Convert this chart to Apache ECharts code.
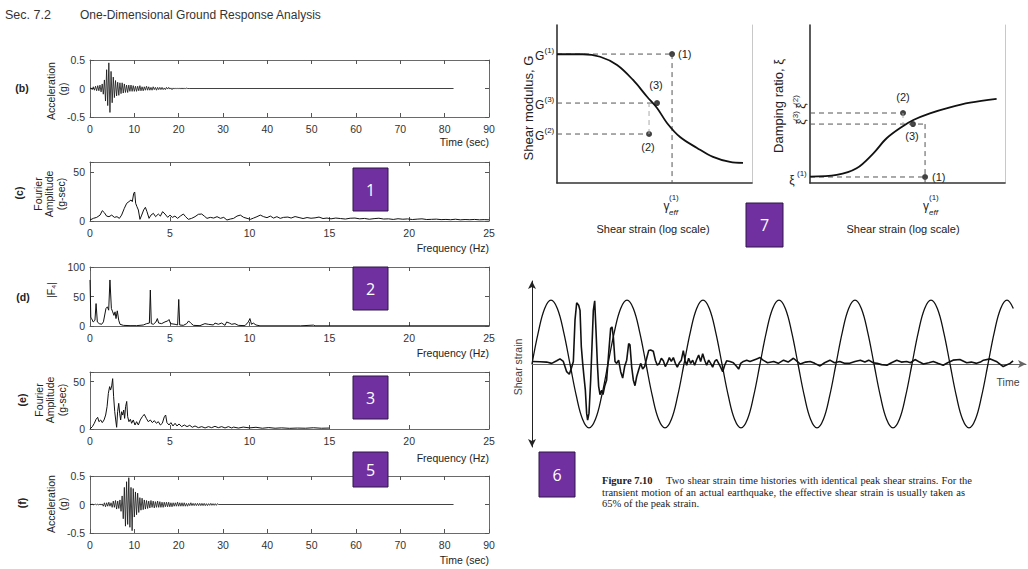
<!DOCTYPE html>
<html><head><meta charset="utf-8">
<script src="https://cdn.jsdelivr.net/npm/echarts@6/dist/echarts.min.js"></script>
<style>html,body{margin:0;padding:0;background:#fff;}#c{width:1028px;height:569px;}</style>
</head><body><div id="c"></div>
<script>
// ---------- DATA ----------
const timeTicks = [0,10,20,30,40,50,60,70,80,90];
const freqTicks = [0,5,10,15,20,25];

// (b) acceleration time history, sampled every 0.25 s
const bDt = 0.25;
const bAcc = [0,0.01,-0.02,0.03,-0.03,0.04,-0.04,0.05,-0.04,0.06,-0.06,0.08,
 -0.1,0.15,-0.22,0.33,-0.3,0.45,-0.42,0.3,-0.25,0.2,-0.16,0.14,
 -0.13,0.11,-0.12,0.1,-0.09,0.1,-0.08,0.08,-0.07,0.06,-0.07,0.06,
 -0.05,0.06,-0.05,0.05,-0.05,0.04,-0.05,0.04,-0.04,0.05,-0.04,0.03,
 -0.04,0.03,-0.03,0.04,-0.03,0.03,-0.03,0.02,-0.03,0.03,-0.02,0.02,
 -0.03,0.02,-0.02,0.02,-0.02,0.02,-0.02,0.01,-0.02,0.02,-0.01,0.02,
 -0.01,0.01,-0.02,0.01,-0.01,0.01,-0.01,0.01,-0.01,0.01,-0.01,0.01,
 -0.01,0.01,-0.01,0.01,0];
const bTail = [[22.5,0],[82,0]];

// (c) Fourier amplitude [Hz, g-sec]
const cSpec = [[0,1],[0.21,2.7],[0.42,3.7],[0.63,6],[0.77,10.5],[0.9,8.5],[1.04,5],[1.19,4.4],[1.36,6],[1.53,3.7],[1.69,4.4],[1.84,2.7],[1.98,6],[2.15,12.9],[2.3,18],[2.44,19.7],[2.57,21.4],[2.65,19.7],[2.74,28.2],[2.8,29.5],[2.86,18],[2.94,14.6],[3.03,11.2],[3.13,1.7],[3.24,6],[3.36,11.2],[3.47,13.9],[3.57,9.5],[3.7,2.7],[3.82,6],[3.97,7.8],[4.11,4.4],[4.28,7.1],[4.41,5],[4.55,9.5],[4.7,7.1],[4.87,3.7],[5.01,6],[5.16,3.7],[5.32,5],[5.49,2.7],[5.66,5],[5.85,7.1],[5.99,4.4],[6.16,1.7],[6.37,2.7],[6.58,4.4],[6.79,6.8],[7.0,7.1],[7.16,5],[7.33,2.7],[7.54,3.7],[7.75,3],[7.96,4.4],[8.17,2.7],[8.38,3.7],[8.58,1],[8.79,2],[9.0,2.7],[9.21,5],[9.42,6],[9.63,3.7],[9.84,2.7],[10.05,1.7],[10.25,3],[10.46,4.4],[10.67,6],[10.88,4.4],[11.09,3.4],[11.3,5],[11.5,3],[11.71,4.4],[11.92,2.7],[12.13,3.7],[12.4,4],[12.6,3],[12.85,4.5],[13.1,3.5],[13.35,2.5],[13.6,3.5],[13.85,2.8],[14.1,3.2],[14.35,4],[14.6,2.5],[14.85,3],[15.1,2.2],[15.4,3],[15.7,2.5],[16.0,2],[16.3,2.8],[16.6,3],[16.9,2.2],[17.2,2.6],[17.5,1.8],[17.8,2.4],[18.1,2.8],[18.4,2],[18.7,2.2],[19.0,1.6],[19.3,2.3],[19.6,1.8],[19.9,2.1],[20.2,1.5],[20.5,1.9],[20.8,2.2],[21.1,1.5],[21.4,1.7],[21.7,1.9],[22.0,1.4],[22.3,1.6],[22.6,1.3],[22.9,1.8],[23.2,1.2],[23.5,1.5],[23.8,1.3],[24.1,1.6],[24.4,1.2],[24.7,1.4],[25,1.2]];

// (d) |F4| transfer function [Hz, value]
const dSpec = [[0,78],[0.05,15],[0.1,12.6],[0.2,6.8],[0.31,9.7],[0.38,38],[0.46,6.8],[0.58,4],[0.73,2.9],[0.84,7],[1.0,29.7],[1.09,32.5],[1.17,26.8],[1.25,78],[1.34,29.7],[1.42,24],[1.5,18],[1.57,24],[1.63,12.6],[1.71,25.7],[1.8,9.7],[1.88,2.9],[2.09,1.1],[2.51,0.6],[2.92,0.6],[3.34,1.7],[3.55,4],[3.72,5],[3.78,61],[3.84,4],[3.97,2.9],[4.13,6.8],[4.22,12.6],[4.3,5],[4.49,4],[4.7,7],[4.87,8.6],[4.95,11],[5.05,4],[5.33,2.9],[5.49,1.7],[5.56,45],[5.62,1.7],[5.85,1.1],[6.06,4],[6.18,8.6],[6.31,5],[6.48,1.1],[6.89,0.6],[7.2,4],[7.41,2.9],[7.73,1.7],[7.83,5],[8.04,2.9],[8.25,5],[8.46,1.1],[8.56,6.8],[8.73,5],[8.88,2.9],[9.08,4],[9.29,1.1],[9.71,0.6],[9.92,6.8],[10.02,12.6],[10.12,2.9],[10.23,5],[10.4,1.7],[10.65,0.3],[13.2,0.3],[14.0,1.5],[14.1,0.3],[25,0.3]];

// (e) Fourier amplitude [Hz, g-sec]
const eSpec = [[0,0],[0.15,2.5],[0.27,6],[0.38,10.2],[0.48,12.3],[0.56,7.7],[0.67,9.5],[0.77,6.7],[0.88,9.5],[0.98,14.7],[1.07,23.5],[1.15,37.5],[1.23,44.6],[1.29,41],[1.36,45.3],[1.42,53],[1.48,34],[1.55,18.2],[1.61,9.5],[1.67,1.8],[1.73,18.2],[1.8,27],[1.86,16.5],[1.92,9.5],[1.98,18.2],[2.05,14.7],[2.11,20],[2.17,11.2],[2.23,23.5],[2.3,29],[2.36,13],[2.44,7.7],[2.53,10.2],[2.61,6],[2.71,9.5],[2.82,4.2],[2.92,7.7],[3.03,4.2],[3.15,9.5],[3.28,13],[3.4,15.4],[3.53,11.2],[3.65,7.7],[3.78,9.5],[3.91,6.7],[4.03,8.8],[4.16,6],[4.28,7.7],[4.41,4.2],[4.53,6],[4.66,13],[4.74,14.7],[4.82,6.7],[4.95,4.2],[5.07,6.7],[5.2,3.2],[5.33,6],[5.45,3.2],[5.58,5.3],[5.74,2.5],[5.91,4.2],[6.08,2.5],[6.25,3.9],[6.41,1.8],[6.58,3.2],[6.79,1.4],[7.0,2.5],[7.21,1.1],[7.42,2.5],[7.62,1.4],[7.83,2.8],[8.04,1.4],[8.25,2.5],[8.46,1.1],[8.67,2.5],[8.88,1.1],[9.0,2],[9.3,1],[9.6,2],[10,1.2],[10.4,1.8],[10.8,0.8],[11.2,1.5],[11.6,0.8],[12,1.2],[12.5,0.7],[13,1],[13.5,0.8],[14,1.3],[14.5,0.8],[15,1]];

// (f) acceleration time history, sampled every 0.25 s
const fDt = 0.25;
const fAcc = [0,0,0.005,-0.005,0,0.005,-0.005,0.005,-0.01,0.01,-0.01,0.01,
 -0.03,0.03,-0.04,0.03,-0.03,0.04,-0.03,0.03,
 -0.05,0.06,-0.05,0.07,-0.08,0.06,-0.07,0.08,
 -0.12,0.15,-0.25,0.3,-0.38,0.4,-0.35,0.47,-0.4,0.3,-0.46,0.28,
 -0.22,0.22,-0.18,0.2,-0.14,0.12,-0.1,0.11,-0.09,0.08,-0.08,0.07,-0.07,0.06,-0.06,0.07,
 -0.05,0.06,-0.06,0.05,-0.05,0.06,-0.05,0.05,-0.05,0.04,-0.05,0.04,-0.04,0.04,-0.04,0.04,
 -0.04,0.03,-0.04,0.03,-0.03,0.03,-0.03,0.04,-0.03,0.03,-0.03,0.03,-0.03,0.03,-0.03,0.02,
 -0.03,0.02,-0.02,0.03,-0.02,0.02,-0.02,0.02,-0.02,0.02,-0.02,0.02,-0.02,0.02,-0.02,0.02,
 -0.02,0.015,-0.02,0.015,-0.015,0.02,-0.015,0.015,-0.015,0.015,-0.015,0.015];
const fTail = [[29,0],[82,0]];

// Shear modulus curve (x: log strain, y: G), relative units 0-100
const gCurve = [[0,81.5],[13.3,81.5],[22.1,79.9],[30.8,74.7],[39,65.2],[46.2,54.6],[51.3,47.5],[56.4,38],[63.1,29.1],[71.8,22.2],[80,16.5],[88.7,13.3],[95.4,12.7]];
const gPoints = [[59,81.6],[51.3,50.6],[47.2,31]];
// Damping curve
const xiCurve = [[0,4],[13.7,5.1],[23.9,9.3],[32.5,18.8],[39.3,28.3],[47.8,36.1],[53,39.9],[61.5,44.1],[71.8,47.9],[82.1,50.8],[95.7,53.2]];
const xiPoints = [[47.7,44.3],[52.8,37.3],[59,3.8]];

// Shear strain histories (time in harmonic periods, strain / peak)
const sineDt = 1/12;
const sineStrain = [0,.5,.87,1,.87,.5,0,-.5,-.87,-1,-.87,-.5,
 0,.5,.87,1,.87,.5,0,-.5,-.87,-1,-.87,-.5,
 0,.5,.87,1,.87,.5,0,-.5,-.87,-1,-.87,-.5,
 0,.5,.87,1,.87,.5,0,-.5,-.87,-1,-.87,-.5,
 0,.5,.87,1,.87,.5,0,-.5,-.87,-1,-.87,-.5,
 0,.5,.87,1,.87,.5,0,-.5,-.87,-1,-.87,-.5,
 0,.5,.87,1,.87];
const eqStrain = [[0,0.04],[0.105,0.036],[0.193,0.03],[0.259,0.01],[0.325,0.05],[0.368,0.08],[0.412,0.04],[0.456,-0.12],[0.491,-0.16],[0.522,-0.05],[0.544,0.04],[0.566,0.69],[0.588,0.96],[0.614,0.92],[0.632,0.84],[0.649,0.27],[0.667,0.01],[0.684,-0.2],[0.702,-0.41],[0.719,-0.77],[0.732,-0.88],[0.75,-0.77],[0.772,-0.25],[0.789,0.27],[0.807,0.84],[0.825,0.99],[0.842,0.53],[0.86,0.01],[0.877,-0.35],[0.895,-0.48],[0.917,-0.41],[0.934,-0.48],[0.956,-0.35],[0.982,-0.25],[1.009,0.17],[1.035,0.56],[1.053,0.58],[1.07,0.43],[1.092,0.04],[1.114,0.01],[1.14,0.06],[1.167,-0.12],[1.193,-0.22],[1.219,-0.04],[1.246,0.06],[1.272,0.32],[1.289,0.3],[1.311,-0.04],[1.333,-0.25],[1.355,-0.34],[1.377,-0.2],[1.404,-0.09],[1.43,0.01],[1.456,-0.08],[1.482,-0.04],[1.509,0.09],[1.535,0.21],[1.561,0.22],[1.596,0.2],[1.623,0.06],[1.649,-0.02],[1.675,0.01],[1.702,0.09],[1.728,0.05],[1.754,-0.04],[1.781,0.02],[1.807,0.1],[1.833,0.04],[1.86,0.1],[1.886,0.01],[1.912,-0.05],[1.939,0.02],[1.965,0.06],[1.991,0.21],[2.013,0.06],[2.035,-0.02],[2.061,0.09],[2.088,0.01],[2.114,0.06],[2.14,-0.02],[2.167,0.07],[2.193,0.14],[2.219,0.04],[2.246,0.16],[2.272,0.06],[2.298,-0.02],[2.325,0.06],[2.351,0.01],[2.377,-0.05],[2.404,0.04],[2.43,0.07],[2.456,0.01],[2.482,-0.05],[2.509,-0.12],[2.535,-0.02],[2.561,0.05],[2.605,0.04],[2.649,0.02],[2.693,-0.04],[2.719,-0.08],[2.746,0.01],[2.781,0.04],[2.825,0.06],[2.868,0.04],[2.912,0.06],[2.956,0.08],[3.0,0.1],[3.04,0.06],[3.1,0.02],[3.18,0.04],[3.24,0.01],[3.31,0.06],[3.37,0.03],[3.44,0.09],[3.5,0.03],[3.53,0],[3.6,0.03],[3.66,0.04],[3.72,0.01],[3.79,-0.03],[3.85,0.02],[3.92,0.06],[3.98,0.02],[4.05,0.04],[4.11,0.01],[4.18,0.01],[4.25,0.04],[4.32,0.06],[4.38,0.03],[4.43,0.06],[4.49,0.02],[4.54,0.01],[4.6,-0.01],[4.67,-0.02],[4.73,0.02],[4.8,0.06],[4.86,0.03],[4.93,0.04],[4.98,0.02],[5.04,0.07],[5.1,0.03],[5.15,0],[5.22,0.02],[5.28,0.04],[5.34,0.01],[5.41,-0.02],[5.47,0.02],[5.54,0.06],[5.63,0.07],[5.72,0.02],[5.78,0.03],[5.85,0.01],[5.9,0.03],[5.94,0.06],[6.03,0.08],[6.11,0.04],[6.2,-0.04],[6.29,0.01],[6.33,0.05]];

// ---------- CHART ----------
const chart = echarts.init(document.getElementById('c'), null, {renderer:'svg', width:1028, height:569});
const SANS = '"Liberation Sans", Arial, Helvetica, sans-serif';
const SERIF = '"Liberation Serif", "Times New Roman", serif';

const panels = [
  {top:60, h:57, xmax:90, xint:10, ymin:-0.5, ymax:0.5, yint:0.5},
  {top:162, h:59, xmax:25, xint:5, ymin:0, ymax:60, yint:50},
  {top:267, h:59, xmax:25, xint:5, ymin:0, ymax:100, yint:50},
  {top:372, h:57, xmax:25, xint:5, ymin:0, ymax:60, yint:50},
  {top:476, h:57, xmax:90, xint:10, ymin:-0.5, ymax:0.5, yint:0.5}
];
const grids=[], xAxes=[], yAxes=[];
const tick = {inside:true, length:4, lineStyle:{color:'#555', width:1}};
const box = {show:true, onZero:false, lineStyle:{color:'#6a6a6a', width:1}};
const lab = {fontSize:10.5, color:'#333', fontFamily:SANS};
panels.forEach((p,i)=>{
  grids.push({left:90, top:p.top, width:399, height:p.h, show:false, containLabel:false, outerBoundsMode:'none'});
  const hideTop = v => (v===p.ymax && p.ymax%p.yint!==0) ? '' : String(v);
  xAxes.push({type:'value', gridIndex:i, position:'bottom', min:0, max:p.xmax, interval:p.xint, axisLine:box, axisTick:tick, splitLine:{show:false}, axisLabel:Object.assign({margin:6}, lab)});
  xAxes.push({type:'value', gridIndex:i, position:'top', min:0, max:p.xmax, interval:p.xint, axisLine:box, axisTick:tick, splitLine:{show:false}, axisLabel:{show:false}});
  yAxes.push({type:'value', gridIndex:i, position:'left', min:p.ymin, max:p.ymax, interval:p.yint, axisLine:box, axisTick:tick, splitLine:{show:false}, axisLabel:Object.assign({margin:5, formatter:hideTop}, lab)});
  yAxes.push({type:'value', gridIndex:i, position:'right', min:p.ymin, max:p.ymax, interval:p.yint, axisLine:box, axisTick:tick, splitLine:{show:false}, axisLabel:{show:false}});
});
// G panel (grid 5), damping panel (grid 6), strain histories (grid 7)
grids.push({left:557, top:25, width:195, height:158, show:false, containLabel:false, outerBoundsMode:'none'});
grids.push({left:810, top:25, width:195, height:158, show:false, containLabel:false, outerBoundsMode:'none'});
grids.push({left:532, top:281, width:494, height:166, show:false, containLabel:false, outerBoundsMode:'none'});
const plainAxis = (g, pos, color, w) => ({type:'value', gridIndex:g, position:pos, min:0, max:100, axisLine:{show:true, onZero:false, lineStyle:{color:color, width:w}}, axisTick:{show:false}, axisLabel:{show:false}, splitLine:{show:false}});
xAxes.push(plainAxis(5,'bottom','#333',1.6));  // 10
xAxes.push(plainAxis(6,'bottom','#333',1.6));  // 11
xAxes.push({type:'value', gridIndex:7, min:0, max:6.5, axisLine:{show:true, onZero:true, symbol:['none','arrow'], symbolSize:[6,8], lineStyle:{color:'#666', width:1}}, axisTick:{show:false}, axisLabel:{show:false}, splitLine:{show:false}}); // 12
yAxes.push(plainAxis(5,'left','#333',1.6));   // 10
yAxes.push(plainAxis(5,'right','#c8c8c8',1)); // 11
yAxes.push(plainAxis(6,'left','#333',1.6));   // 12
yAxes.push(plainAxis(6,'right','#c8c8c8',1)); // 13
yAxes.push({type:'value', gridIndex:7, min:-1.3, max:1.3, axisLine:{show:true, onZero:true, symbol:['arrow','arrow'], symbolSize:[6,8], lineStyle:{color:'#222', width:1}}, axisTick:{show:false}, axisLabel:{show:false}, splitLine:{show:false}}); // 14

const line = (xi, yi, data, w, extra) => Object.assign({type:'line', xAxisIndex:xi, yAxisIndex:yi, data:data, showSymbol:false, symbol:'none', silent:true, animation:false, lineStyle:{color:'#111', width:w}}, extra||{});
const dash = (xi, yi, data, color) => line(xi, yi, data, 1, {lineStyle:{color:color||'#555', width:1, type:[5,4]}});

const bData = bAcc.map((v,i)=>[i*bDt, v]).concat(bTail);
const fData = fAcc.map((v,i)=>[i*fDt, v]).concat(fTail);
const sineData = sineStrain.map((v,i)=>[i*sineDt, v]);

const series = [
  line(0,0,bData,0.8),
  line(2,2,cSpec,1),
  line(4,4,dSpec,1),
  line(6,6,eSpec,1),
  line(8,8,fData,0.8),
  // G panel
  dash(10,10,[[0,gPoints[0][1]],[gPoints[0][0],gPoints[0][1]]]),
  dash(10,10,[[gPoints[0][0],gPoints[0][1]],[gPoints[0][0],0]]),
  dash(10,10,[[0,gPoints[1][1]],[gPoints[1][0],gPoints[1][1]]]),
  dash(10,10,[[0,gPoints[2][1]],[gPoints[2][0],gPoints[2][1]]]),
  dash(10,10,[[gPoints[2][0],gPoints[2][1]],[gPoints[2][0],gPoints[1][1]]],'#aaa'),
  line(10,10,gCurve,1.8,{smooth:0.35}),
  {type:'scatter', xAxisIndex:10, yAxisIndex:10, data:gPoints, symbolSize:6, itemStyle:{color:'#111'}, silent:true, animation:false},
  // damping panel
  dash(11,12,[[0,xiPoints[0][1]],[xiPoints[0][0],xiPoints[0][1]]]),
  dash(11,12,[[0,xiPoints[1][1]],[xiPoints[2][0],xiPoints[1][1]]]),
  dash(11,12,[[xiPoints[2][0],xiPoints[1][1]],[xiPoints[2][0],0]]),
  dash(11,12,[[0,xiPoints[2][1]],[xiPoints[2][0],xiPoints[2][1]]]),
  dash(11,12,[[xiPoints[0][0],xiPoints[0][1]],[xiPoints[0][0],xiPoints[1][1]]],'#aaa'),
  line(11,12,xiCurve,1.8,{smooth:0.35}),
  {type:'scatter', xAxisIndex:11, yAxisIndex:12, data:xiPoints, symbolSize:6, itemStyle:{color:'#111'}, silent:true, animation:false},
  // strain histories
  line(12,14,sineData,1.3,{smooth:0.4}),
  line(12,14,eqStrain,1.6)
];

function T(x,y,text,o){o=o||{};const size=o.size||10.5;
  const font=(o.italic?'italic ':'')+(o.bold?'bold ':'')+size+'px '+(o.family||SANS);
  return {type:'text', x:x, y:y, rotation:o.rot||0, z:50, silent:true,
    style:{text:text, font:font, fill:o.color||'#222', align:o.align||'center', verticalAlign:o.va||'middle', textAlign:o.align||'center', textVerticalAlign:o.va||'middle'}};}
const R = Math.PI/2;
const g = [];
// justified text line, word by word
const mctx = document.createElement('canvas').getContext('2d');
function justify(str, x0, x1, y, size, family){
  const font = size+'px '+family; mctx.font = font;
  const words = str.split(' ');
  const ws = words.map(w=>mctx.measureText(w).width);
  const total = ws.reduce((a,b)=>a+b,0);
  const gap = (x1-x0-total)/(words.length-1);
  let x = x0;
  words.forEach((w,i)=>{ g.push(T(x,y,w,{size:size,align:'left',family:family})); x += ws[i]+gap; });
}
// title
g.push(T(5,15,'Sec. 7.2',{size:12.5,align:'left',color:'#333'}));
g.push(T(80,15,'One-Dimensional Ground Response Analysis',{size:12,align:'left',color:'#333'}));
// left panel labels
g.push(T(22,88,'(b)',{size:10.5,bold:true}));
g.push(T(51,91,'Acceleration',{rot:R})); g.push(T(63,89,'(g)',{rot:R}));
g.push(T(489,142,'Time (sec)',{align:'right'}));
g.push(T(19,193,'(c)',{size:10.5,bold:true,rot:R}));
g.push(T(37.5,194,'Fourier',{rot:R})); g.push(T(49,194,'Amplitude',{rot:R})); g.push(T(61,194,'(g-sec)',{rot:R}));
g.push(T(489,248,'Frequency (Hz)',{align:'right'}));
g.push(T(23,297,'(d)',{size:10.5,bold:true}));
g.push(T(51,290,'|F\u2084|',{rot:R}));
g.push(T(489,353,'Frequency (Hz)',{align:'right'}));
g.push(T(22,400,'(e)',{size:10.5,bold:true,rot:R}));
g.push(T(38.5,400,'Fourier',{rot:R})); g.push(T(50,400,'Amplitude',{rot:R})); g.push(T(62,400,'(g-sec)',{rot:R}));
g.push(T(489,458,'Frequency (Hz)',{align:'right'}));
g.push(T(21.5,503,'(f)',{size:10.5,bold:true,rot:R}));
g.push(T(51,504,'Acceleration',{rot:R})); g.push(T(63,504,'(g)',{rot:R}));
g.push(T(489,560,'Time (sec)',{align:'right'}));
// G panel labels
g.push(T(528,108,'Shear modulus, G',{size:13,rot:R}));
[[54,'(1)'],[103,'(3)'],[134,'(2)']].forEach(([y,s])=>{ g.push(T(535,y+2,'G',{size:12,align:'left'})); g.push(T(544.5,y-4,s,{size:8,align:'left'})); });
g.push(T(678,54,'(1)',{size:11,align:'left'}));
g.push(T(656,85,'(3)',{size:11}));
g.push(T(648,147,'(2)',{size:11}));
g.push(T(666.5,206,'\u03b3',{size:12}));
g.push(T(669,197,'(1)',{size:8,align:'left'}));
g.push(T(669,212,'eff',{size:8,align:'left',italic:true}));
g.push(T(653,229,'Shear strain (log scale)',{size:11}));
// damping panel labels
g.push(T(778,106,'Damping ratio, \u03be',{size:13,rot:R}));
g.push(T(801,106,'\u03be',{size:12,rot:R})); g.push(T(795,100,'(2)',{size:8,rot:R}));
g.push(T(801,122,'\u03be',{size:12,rot:R})); g.push(T(795,116,'(3)',{size:8,rot:R}));
g.push(T(792,180,'\u03be',{size:12}));
g.push(T(797,173,'(1)',{size:8,align:'left'}));
g.push(T(903,97,'(2)',{size:11}));
g.push(T(912,136,'(3)',{size:11}));
g.push(T(932,177,'(1)',{size:11,align:'left'}));
g.push(T(926,206,'\u03b3',{size:12}));
g.push(T(929,197,'(1)',{size:8,align:'left'}));
g.push(T(929,212,'eff',{size:8,align:'left',italic:true}));
g.push(T(903,229,'Shear strain (log scale)',{size:11}));
// strain history labels
g.push(T(518,367,'Shear strain',{size:10.5,rot:R,color:'#444'}));
g.push(T(1008,382,'Time',{size:10.5,color:'#444'}));
// caption
g.push(T(602,480,'Figure 7.10',{size:10.5,bold:true,align:'left',family:SERIF}));
justify('Two shear strain time histories with identical peak shear strains. For the', 666, 972, 480, 10.5, SERIF);
justify('transient motion of an actual earthquake, the effective shear strain is usually taken as', 602, 965, 492, 10.5, SERIF);
g.push(T(602,503.5,'65% of the peak strain.',{size:10.5,align:'left',family:SERIF}));
// purple number boxes
[[353,168,35,43,'1'],[353,267,35,43,'2'],[353,376,35,43,'3'],[353,452,35,35,'5'],[539,452,36,45,'6'],[746,203,37,44,'7']].forEach(([x,y,w,h,s])=>{
  g.push({type:'rect', z:60, silent:true, shape:{x:x,y:y,width:w,height:h}, style:{fill:'#7030a0', stroke:'#2e1446', lineWidth:1}});
  g.push(Object.assign(T(x+w/2,y+h/2,s,{size:16,color:'#ffffff',family:'"Open Sans", "Liberation Sans", sans-serif'}),{z:61}));
});

chart.setOption({
  animation:false,
  backgroundColor:'#ffffff',
  textStyle:{fontFamily:SANS},
  grid:grids, xAxis:xAxes, yAxis:yAxes, series:series, graphic:g
});
</script></body></html>
